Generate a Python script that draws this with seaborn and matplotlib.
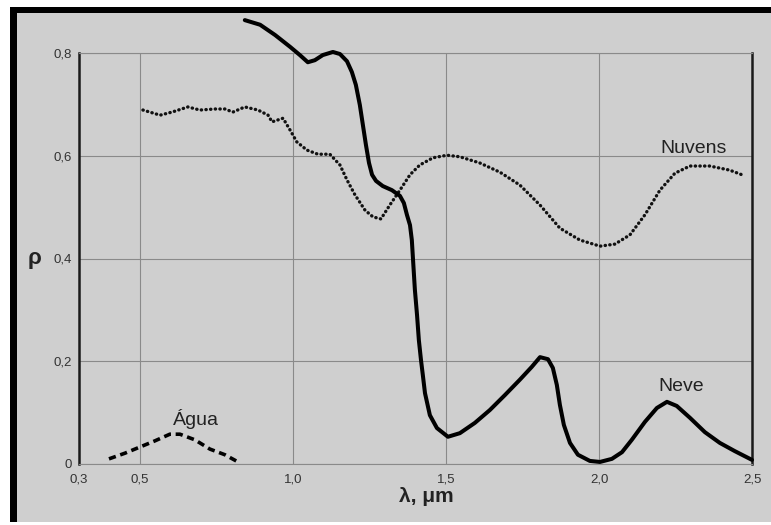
import matplotlib
matplotlib.use("Agg")
import matplotlib.pyplot as plt
from matplotlib.patches import Rectangle
import seaborn as sns
import pandas as pd

# ---- data ----
neve_wl = [0.842, 0.892, 0.941, 0.990, 1.022, 1.048, 1.071, 1.097, 1.130, 1.153, 1.176, 1.192,
           1.205, 1.218, 1.228, 1.238, 1.248, 1.258, 1.271, 1.293, 1.323, 1.349, 1.362, 1.372,
           1.382, 1.388, 1.392, 1.398, 1.405, 1.411, 1.418, 1.424, 1.431, 1.447, 1.470, 1.506,
           1.545, 1.594, 1.643, 1.692, 1.741, 1.780, 1.807, 1.833, 1.849, 1.862, 1.872, 1.885,
           1.905, 1.931, 1.970, 2.003, 2.042, 2.075, 2.107, 2.150, 2.189, 2.222, 2.254, 2.297,
           2.346, 2.395, 2.444, 2.500]
neve_rho = [0.864, 0.855, 0.835, 0.812, 0.796, 0.782, 0.786, 0.796, 0.802, 0.798, 0.784, 0.763,
            0.738, 0.699, 0.660, 0.621, 0.586, 0.563, 0.551, 0.541, 0.533, 0.522, 0.508, 0.485,
            0.465, 0.436, 0.397, 0.339, 0.290, 0.241, 0.202, 0.173, 0.138, 0.095, 0.070, 0.053,
            0.060, 0.080, 0.105, 0.134, 0.164, 0.189, 0.208, 0.204, 0.187, 0.154, 0.115, 0.076,
            0.041, 0.018, 0.006, 0.004, 0.010, 0.023, 0.047, 0.082, 0.109, 0.121, 0.113, 0.090,
            0.062, 0.041, 0.025, 0.008]

nuvens_wl = [0.509, 0.565, 0.604, 0.656, 0.695, 0.744, 0.777, 0.803, 0.842, 0.885, 0.918, 0.931,
             0.967, 0.990, 1.012, 1.045, 1.081, 1.120, 1.153, 1.176, 1.202, 1.235, 1.261, 1.287,
             1.316, 1.349, 1.382, 1.414, 1.457, 1.503, 1.545, 1.610, 1.676, 1.741, 1.807, 1.872,
             1.937, 2.003, 2.052, 2.101, 2.150, 2.199, 2.248, 2.297, 2.362, 2.427, 2.476]
nuvens_rho = [0.689, 0.679, 0.685, 0.695, 0.689, 0.691, 0.691, 0.685, 0.695, 0.689, 0.679, 0.666,
              0.673, 0.650, 0.627, 0.611, 0.603, 0.603, 0.582, 0.553, 0.524, 0.494, 0.481, 0.477,
              0.504, 0.533, 0.563, 0.582, 0.596, 0.601, 0.598, 0.586, 0.568, 0.543, 0.504, 0.459,
              0.436, 0.424, 0.428, 0.446, 0.485, 0.533, 0.566, 0.580, 0.580, 0.572, 0.561]

agua_wl = [0.398, 0.450, 0.499, 0.548, 0.597, 0.630, 0.679, 0.728, 0.777, 0.826]
agua_rho = [0.010, 0.021, 0.033, 0.045, 0.058, 0.058, 0.047, 0.029, 0.018, 0.002]

x_ticks = [0.3, 0.5, 1.0, 1.5, 2.0, 2.5]
x_tick_labels = ["0,3", "0,5", "1,0", "1,5", "2,0", "2,5"]
y_ticks = [0.0, 0.2, 0.4, 0.6, 0.8]
y_tick_labels = ["0", "0,2", "0,4", "0,6", "0,8"]

BG = "#cfcfcf"
sns.set_style("white", {"axes.facecolor": BG})
plt.rcParams["font.family"] = ["Liberation Sans", "DejaVu Sans"]

W, H = 771, 525
fig = plt.figure(figsize=(W / 100, H / 100), dpi=100, facecolor="white")
# gray panel with thick black left/top border
fig.patches.append(Rectangle((10 / W, 3 / H), 761 / W, 515 / H, transform=fig.transFigure,
                             facecolor=BG, edgecolor="none", zorder=-10))
fig.patches.append(Rectangle((10 / W, 3 / H), 7 / W, 515 / H, transform=fig.transFigure,
                             facecolor="black", edgecolor="none", zorder=-9))
fig.patches.append(Rectangle((10 / W, 512 / H), 761 / W, 6 / H, transform=fig.transFigure,
                             facecolor="black", edgecolor="none", zorder=-9))

ax = fig.add_axes([79 / W, 61 / H, 673 / W, 411 / H])
ax.set_facecolor(BG)

df_neve = pd.DataFrame({"wl": neve_wl, "rho": neve_rho})
df_nuv = pd.DataFrame({"wl": nuvens_wl, "rho": nuvens_rho})
df_agua = pd.DataFrame({"wl": agua_wl, "rho": agua_rho})

sns.lineplot(data=df_neve, x="wl", y="rho", ax=ax, color="black", lw=2.9,
             clip_on=False, solid_capstyle="round", solid_joinstyle="round", zorder=5)
sns.lineplot(data=df_nuv, x="wl", y="rho", ax=ax, color="#111111", lw=2.4,
             linestyle=(0, (0.1, 1.3)), dash_capstyle="round", clip_on=False, zorder=4)
sns.lineplot(data=df_agua, x="wl", y="rho", ax=ax, color="black", lw=2.6,
             linestyle=(0, (2.0, 1.3)), clip_on=False, zorder=4)

ax.set_xlim(0.3, 2.5)
ax.set_ylim(0, 0.8)
ax.set_xticks(x_ticks)
ax.set_xticklabels(x_tick_labels)
ax.set_yticks(y_ticks)
ax.set_yticklabels(y_tick_labels)
ax.tick_params(axis="both", length=0, labelsize=9.5, labelcolor="#333333")
ax.tick_params(axis="x", pad=7)
ax.tick_params(axis="y", pad=5)

ax.grid(True, color="#8a8a8a", lw=0.8, ls="-")
ax.set_axisbelow(True)
for side in ["top", "bottom"]:
    ax.spines[side].set_color("#8a8a8a")
    ax.spines[side].set_linewidth(0.8)
for side in ["left", "right"]:
    ax.spines[side].set_color("#1a1a1a")
    ax.spines[side].set_linewidth(1.8)

ax.set_xlabel("λ, μm", fontsize=15, fontweight="bold", color="#222222", x=0.516, labelpad=1)
ax.set_ylabel("ρ", fontsize=16, fontweight="bold", color="#222222", rotation=0,
              labelpad=14, va="center")

ax.text(2.31, 0.615, "Nuvens", fontsize=14, ha="center", va="center", color="#222222")
ax.text(2.27, 0.150, "Neve", fontsize=14, ha="center", va="center", color="#222222")
ax.text(0.682, 0.088, "Água", fontsize=14, ha="center", va="center", color="#222222")

fig.savefig("out.png", dpi=100, facecolor="white")
